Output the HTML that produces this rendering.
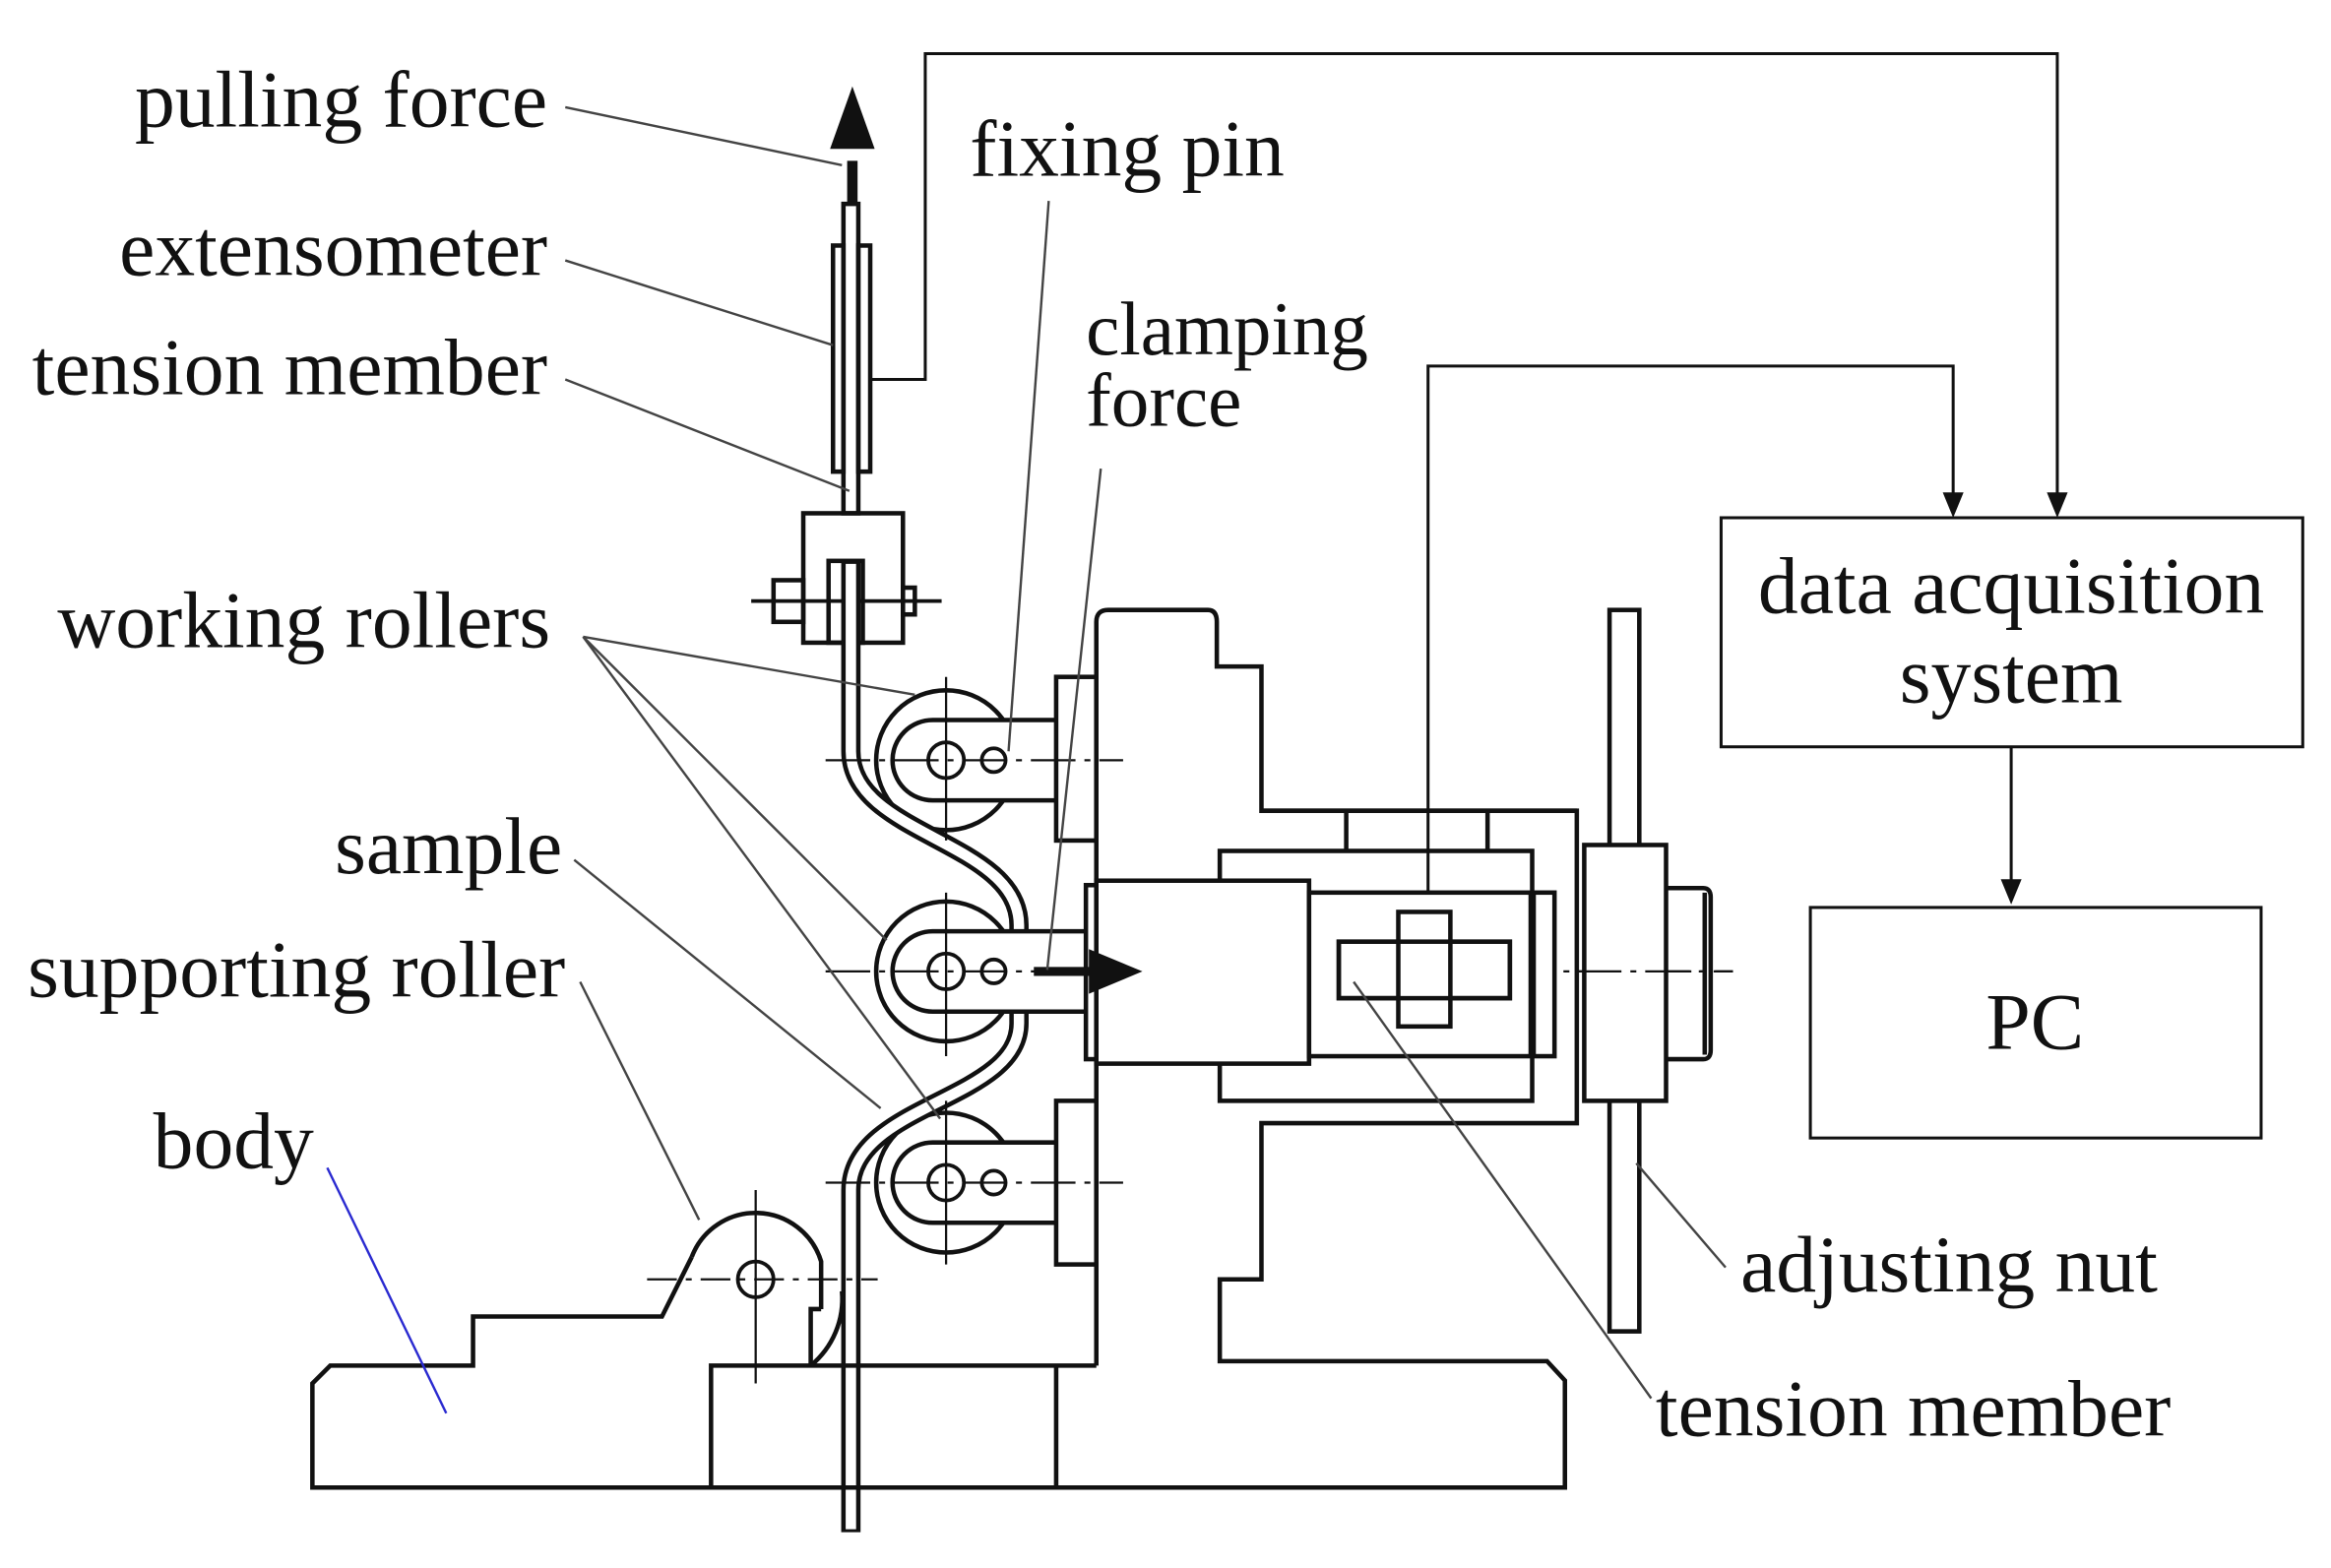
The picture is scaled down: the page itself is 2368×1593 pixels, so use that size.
<!DOCTYPE html>
<html><head><meta charset="utf-8"><style>
html,body{margin:0;padding:0;background:#fff;}
svg{display:block;}
text{font-family:"Liberation Serif",serif;font-size:54px;fill:#111;}
</style></head><body>
<svg width="2368" height="1593" viewBox="0 0 1567 1054" xmlns="http://www.w3.org/2000/svg">
<g fill="none" stroke="#111" stroke-width="3">
<path d="M586 255 H622 V36 H1383 V334" stroke-width="2"/>
<path d="M960 655 V246 H1313 V334" stroke-width="2"/>
<path d="M1352 502 V594" stroke-width="2"/>
<g fill="#111" stroke="none">
<path d="M1383 348 L1376 331 L1390 331 Z"/>
<path d="M1313 348 L1306 331 L1320 331 Z"/>
<path d="M1352 608 L1345 591 L1359 591 Z"/>
</g>
<rect x="1157" y="348" width="391" height="154" stroke-width="2"/>
<rect x="1217" y="610" width="303" height="155" stroke-width="2"/>

<line x1="573" y1="108" x2="573" y2="137" stroke-width="7"/>
<path d="M573 58 L588 100 L558 100 Z" fill="#111" stroke="none"/>
<rect x="567" y="137" width="10" height="208"/>
<rect x="560" y="165" width="7" height="152"/>
<rect x="577" y="165" width="8" height="152"/>
<rect x="540" y="345" width="67" height="87"/>
<rect x="557" y="377" width="23" height="55"/>
<rect x="520" y="390" width="20" height="28"/>
<rect x="607" y="395" width="8" height="18"/>
<line x1="505" y1="404" x2="633" y2="404" stroke-width="2.5"/>

<circle cx="636" cy="511" r="47"/>
<circle cx="636" cy="653" r="47"/>
<circle cx="636" cy="795" r="47"/>
<path d="M572 377 V505 C572 562 685 565 685 622 V688 C685 740 572 742 572 800 V1030" stroke-width="13"/>
<path d="M572 379 V505 C572 562 685 565 685 622 V688 C685 740 572 742 572 800 V1028" stroke="#fff" stroke-width="7"/>
<path d="M710 484 H627 A27 27 0 0 0 627 538 H710" fill="#fff"/>
<path d="M730 626 H627 A27 27 0 0 0 627 680 H730" fill="#fff"/>
<path d="M710 768 H627 A27 27 0 0 0 627 822 H710" fill="#fff"/>
<g stroke-width="2.5">
<circle cx="636" cy="511" r="12"/><circle cx="668" cy="511" r="8"/>
<circle cx="636" cy="653" r="12"/><circle cx="668" cy="653" r="8"/>
<circle cx="636" cy="795" r="12"/><circle cx="668" cy="795" r="8"/>
</g>
<g stroke-width="1.5">
<line x1="555" y1="511" x2="755" y2="511" stroke-dasharray="30 6 4 6"/>
<line x1="555" y1="795" x2="755" y2="795" stroke-dasharray="30 6 4 6"/>
<line x1="636" y1="455" x2="636" y2="565"/>
<line x1="636" y1="600" x2="636" y2="710"/>
<line x1="636" y1="740" x2="636" y2="850"/>
<line x1="555" y1="653" x2="1165" y2="653" stroke-dasharray="30 6 4 6"/>
</g>
<rect x="710" y="455" width="27" height="110"/>
<rect x="710" y="740" width="27" height="110"/>
<rect x="730" y="595" width="8" height="117"/>

<path d="M737 918 V418 Q737 410 745 410 H812 Q818 410 818 418 V448 H848 V545 H1060 V755 H848 V860 H820 V915 H1040 L1052 928 V1000 H210 V930 L222 918 H318 V885 H445 L465 845"/>
<path d="M478 1000 V918 H737"/>
<line x1="710" y1="918" x2="710" y2="1000"/>
<path d="M465 845 A46 46 0 0 1 552 848 V880"/>
<path d="M545 918 A58 58 0 0 0 566 868"/>
<path d="M545 918 V880 H552"/>
<circle cx="508" cy="860" r="12" stroke-width="2.5"/>
<line x1="435" y1="860" x2="590" y2="860" stroke-width="1.5" stroke-dasharray="20 6 4 6"/>
<line x1="508" y1="800" x2="508" y2="930" stroke-width="1.5"/>

<path d="M848 545 H1060 M905 545 V572 M1000 545 V572"/>
<rect x="820" y="572" width="210" height="168"/>
<rect x="737" y="592" width="143" height="123" fill="#fff"/>
<rect x="880" y="600" width="165" height="110" fill="#fff"/>
<line x1="1030" y1="600" x2="1030" y2="710" stroke-width="5"/>
<rect x="900" y="633" width="115" height="38"/>
<rect x="940" y="613" width="35" height="77" fill="#fff"/>
<rect x="900" y="633" width="115" height="38" fill="none"/>
<rect x="1082" y="410" width="20" height="485"/>
<rect x="1065" y="568" width="55" height="172" fill="#fff"/>
<path d="M1120 597 H1145 Q1150 597 1150 603 V706 Q1150 712 1145 712 H1120"/>
<line x1="1146" y1="600" x2="1146" y2="709" stroke-width="3"/>
<line x1="1060" y1="653" x2="1165" y2="653" stroke-width="1.5" stroke-dasharray="30 6 4 6"/>

<line x1="695" y1="653" x2="735" y2="653" stroke-width="6"/>
<path d="M768 653 L732 638 L732 668 Z" fill="#111" stroke="none"/>

<g stroke="#444" stroke-width="1.6">
<line x1="380" y1="72" x2="566" y2="111"/>
<line x1="380" y1="175" x2="560" y2="232"/>
<line x1="380" y1="255" x2="571" y2="330"/>
<line x1="392" y1="428" x2="615" y2="467"/>
<line x1="392" y1="428" x2="596" y2="632"/>
<line x1="392" y1="428" x2="632" y2="752"/>
<line x1="386" y1="578" x2="592" y2="745"/>
<line x1="390" y1="660" x2="470" y2="820"/>
<line x1="705" y1="135" x2="678" y2="505"/>
<line x1="740" y1="315" x2="704" y2="652"/>
<line x1="1160" y1="852" x2="1100" y2="782"/>
<line x1="1110" y1="940" x2="910" y2="660"/>
<line x1="220" y1="785" x2="300" y2="950" stroke="#2a2ad0"/>
</g>
</g>
<g>
<text x="368" y="85" text-anchor="end">pulling force</text>
<text x="368" y="185" text-anchor="end">extensometer</text>
<text x="368" y="265" text-anchor="end">tension member</text>
<text x="370" y="435" text-anchor="end">working rollers</text>
<text x="378" y="587" text-anchor="end">sample</text>
<text x="380" y="670" text-anchor="end">supporting roller</text>
<text x="103" y="785">body</text>
<text x="652" y="118">fixing pin</text>
<text x="730" y="238" style="font-size:51px">clamping</text>
<text x="730" y="286" style="font-size:51px">force</text>
<text x="1352" y="412" text-anchor="middle">data acquisition</text>
<text x="1352" y="472" text-anchor="middle">system</text>
<text x="1368" y="705" text-anchor="middle">PC</text>
<text x="1170" y="868">adjusting nut</text>
<text x="1113" y="965">tension member</text>
</g>
</svg>
</body></html>
